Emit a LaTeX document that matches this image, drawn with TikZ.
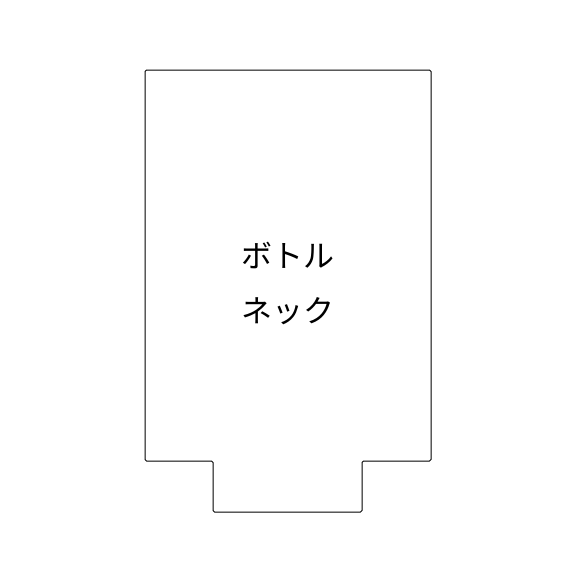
\documentclass[tikz,border=0pt]{standalone}
\usepackage{fontspec}
\newfontfamily\cjk{Noto Sans CJK JP}
\usepackage{tikz}
\usetikzlibrary{positioning}

\begin{document}
\begin{tikzpicture}[
  x=1pt, y=-1pt,
  outline/.style={
    draw=black,
    line width=1pt,
    rounded corners=1.5pt
  },
  label/.style={
    font=\cjk\fontsize{31}{55}\selectfont,
    align=center
  }
]
\useasboundingbox (0,0) rectangle (570,570);

% Bottle outline
\draw[outline] (145,70) -- (431,70) -- (431,461) -- (362,461) -- (362,512)
  -- (213,512) -- (213,461) -- (145,461) -- cycle;

% Label
\node[label] (name) at (288,283) {ボトル\\ネック};
\end{tikzpicture}
\end{document}
